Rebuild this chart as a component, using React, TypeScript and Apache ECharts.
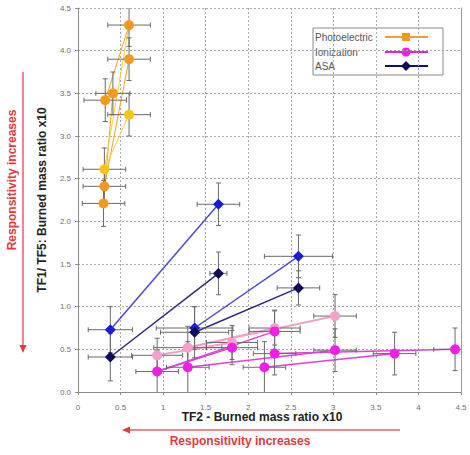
import React, { useEffect, useRef } from "react";
import * as echarts from "echarts";

// ---- data: [x, y, xErr, yErr] ----
const photoOrangePts = [
  [0.30, 2.21, 0.25, 0.27],
  [0.31, 2.41, 0.25, 0.2],
  [0.32, 3.42, 0.25, 0.25],
  [0.41, 3.50, 0.2, 0.25],
  [0.60, 3.90, 0.25, 0.25],
  [0.60, 4.30, 0.25, 0.25],
];
const photoYellowPts = [
  [0.31, 2.61, 0.25, 0.25],
  [0.60, 3.25, 0.25, 0.25],
];
const ionPinkPts = [
  [0.93, 0.43, 0.3, 0.2],
  [1.29, 0.52, 0.4, 0.25],
  [1.81, 0.58, 0.3, 0.2],
  [2.31, 0.75, 0.3, 0.2],
  [3.02, 0.89, 0.25, 0.25],
];
const ionMagentaPts = [
  [0.93, 0.24, 0.25, 0.25],
  [1.29, 0.29, 0.25, 0.3],
  [1.81, 0.52, 0.3, 0.2],
  [2.31, 0.71, 0.3, 0.25],
  [2.31, 0.45, 0.25, 0.25],
  [2.19, 0.29, 0.25, 0.3],
  [3.02, 0.49, 0.25, 0.25],
  [3.72, 0.45, 0.25, 0.25],
  [4.43, 0.50, 0.25, 0.25],
];
const asaBluePts = [
  [0.38, 0.73, 0.26, 0.27],
  [1.65, 2.20, 0.25, 0.25],
  [1.37, 0.75, 0.45, 0.25],
  [2.59, 1.59, 0.4, 0.25],
];
const asaNavyPts = [
  [0.38, 0.41, 0.26, 0.28],
  [1.65, 1.39, 0.1, 0.25],
  [1.37, 0.70, 0.4, 0.3],
  [2.59, 1.22, 0.25, 0.2],
];

// ---- connecting segments: [x1, y1, x2, y2] ----
const photoOrangeSegs = [
  [0.30, 2.21, 0.41, 3.50],
  [0.31, 2.41, 0.60, 3.90],
  [0.32, 3.42, 0.60, 4.30],
];
const photoYellowSegs = [
  [0.31, 2.61, 0.60, 4.30],
  [0.31, 2.61, 0.60, 3.25],
];
const ionPinkSegs = [
  [0.93, 0.43, 1.81, 0.58],
  [1.29, 0.52, 2.31, 0.75],
  [1.29, 0.52, 3.02, 0.89],
];
const ionMagentaSegs = [
  [0.93, 0.24, 2.31, 0.71],
  [0.93, 0.24, 1.81, 0.52],
  [1.29, 0.29, 3.02, 0.49],
  [2.19, 0.29, 3.72, 0.45],
  [2.31, 0.45, 4.43, 0.50],
];
const asaBlueSegs = [
  [0.38, 0.73, 1.65, 2.20],
  [1.37, 0.75, 2.59, 1.59],
];
const asaNavySegs = [
  [0.38, 0.41, 1.65, 1.39],
  [1.37, 0.70, 2.59, 1.22],
];

const legendNames = ["Photoelectric", "Ionization", "ASA"];
const xAxisTitle = "TF2 - Burned mass ratio x10";
const yAxisTitle = "TF1/ TF5: Burned mass ratio x10";
const arrowText = "Responsitivity increases";

const FONT = "'Liberation Sans', Arial, sans-serif";

export default function App() {
  const ref = useRef<HTMLDivElement>(null);
  useEffect(() => {
    if (!ref.current) return;
    const chart = echarts.init(ref.current, null, { renderer: "svg" });

    const groups = [
      { pts: photoOrangePts, segs: photoOrangeSegs, color: "#f39a1e", line: "#f3a030", lw: 1, symbol: "circle", size: 10 },
      { pts: photoYellowPts, segs: photoYellowSegs, color: "#f5c518", line: "#f5d040", lw: 1, symbol: "circle", size: 10 },
      { pts: ionPinkPts, segs: ionPinkSegs, color: "#f4a0c8", line: "#f4a0c8", lw: 2, symbol: "circle", size: 10 },
      { pts: ionMagentaPts, segs: ionMagentaSegs, color: "#f01ee6", line: "#e040d8", lw: 1.5, symbol: "circle", size: 10 },
      { pts: asaBluePts, segs: asaBlueSegs, color: "#1a1adc", line: "#4a4ad8", lw: 1.5, symbol: "diamond", size: 11 },
      { pts: asaNavyPts, segs: asaNavySegs, color: "#0c0c5a", line: "#2a2a78", lw: 1.5, symbol: "diamond", size: 11 },
    ];

    const series: any[] = [];
    groups.forEach((g) => {
      g.segs.forEach((s) => {
        series.push({
          type: "line",
          data: [[s[0], s[1]], [s[2], s[3]]],
          showSymbol: false,
          lineStyle: { color: g.line, width: g.lw },
          silent: true,
          z: 2,
        });
      });
    });

    const allPts = groups.flatMap((g) => g.pts);
    series.push({
      type: "custom",
      data: allPts,
      clip: true,
      z: 3,
      silent: true,
      renderItem: (params: any, api: any) => {
        const x = api.value(0), y = api.value(1), ex = api.value(2), ey = api.value(3);
        const l = api.coord([x - ex, y]);
        const r = api.coord([x + ex, y]);
        const t = api.coord([x, y + ey]);
        const b = api.coord([x, y - ey]);
        const st = { stroke: "#6a6a6a", lineWidth: 1 };
        const c = 2.5;
        return {
          type: "group",
          children: [
            { type: "line", shape: { x1: l[0], y1: l[1], x2: r[0], y2: r[1] }, style: st },
            { type: "line", shape: { x1: t[0], y1: t[1], x2: b[0], y2: b[1] }, style: st },
            { type: "line", shape: { x1: l[0], y1: l[1] - c, x2: l[0], y2: l[1] + c }, style: st },
            { type: "line", shape: { x1: r[0], y1: r[1] - c, x2: r[0], y2: r[1] + c }, style: st },
            { type: "line", shape: { x1: t[0] - c, y1: t[1], x2: t[0] + c, y2: t[1] }, style: st },
            { type: "line", shape: { x1: b[0] - c, y1: b[1], x2: b[0] + c, y2: b[1] }, style: st },
          ],
        };
      },
    });

    groups.forEach((g) => {
      series.push({
        type: "scatter",
        data: g.pts.map((p) => [p[0], p[1]]),
        symbol: g.symbol,
        symbolSize: g.size,
        itemStyle: { color: g.color, opacity: 1 },
        z: 4,
        silent: true,
      });
    });

    const red = "#e23a3a";
    const arrowLine = "#e46060";

    chart.setOption({
      animation: false,
      backgroundColor: "#ffffff",
      grid: { left: 78, right: 9, top: 8, bottom: 63, containLabel: false },
      xAxis: {
        type: "value",
        min: 0,
        max: 4.5,
        interval: 0.5,
        axisLine: { show: true, onZero: false, lineStyle: { color: "#8a8a8a", width: 1 } },
        axisTick: { show: true, length: 3, lineStyle: { color: "#8a8a8a" } },
        axisLabel: { color: "#707070", fontSize: 8, fontFamily: FONT, margin: 11, formatter: (v: number) => String(v) },
        splitLine: { show: true, lineStyle: { color: "#a8a8a8", type: [2, 2], width: 1 } },
      },
      yAxis: [
        {
          type: "value",
          min: 0,
          max: 4.5,
          interval: 0.5,
          axisLine: { show: true, onZero: false, lineStyle: { color: "#8a8a8a", width: 1 } },
          axisTick: { show: true, length: 3, lineStyle: { color: "#8a8a8a" } },
          axisLabel: { color: "#707070", fontSize: 8, fontFamily: FONT, margin: 7, formatter: (v: number) => v.toFixed(1) },
          splitLine: { show: true, lineStyle: { color: "#a8a8a8", type: [2, 2], width: 1 } },
        },
        {
          type: "value",
          min: 0,
          max: 4.5,
          interval: 0.5,
          position: "right",
          axisLine: { show: true, onZero: false, lineStyle: { color: "#9a9a9a", width: 1 } },
          axisTick: { show: false },
          axisLabel: { show: false },
          splitLine: { show: false },
        },
      ],
      series,
      graphic: [
        // legend
        {
          type: "group",
          z: 100,
          children: [
            { type: "rect", shape: { x: 313, y: 28, width: 130, height: 47 }, style: { fill: "#fff", stroke: "#8a8a8a", lineWidth: 1 } },
            { type: "text", x: 315, y: 37, style: { text: legendNames[0], fill: "#555", font: `10px ${FONT}`, verticalAlign: "middle" } },
            { type: "text", x: 315, y: 52, style: { text: legendNames[1], fill: "#555", font: `10px ${FONT}`, verticalAlign: "middle" } },
            { type: "text", x: 315, y: 66, style: { text: legendNames[2], fill: "#555", font: `10px ${FONT}`, verticalAlign: "middle" } },
            { type: "line", shape: { x1: 385, y1: 37, x2: 428, y2: 37 }, style: { stroke: "#f3a030", lineWidth: 2 } },
            { type: "rect", shape: { x: 402, y: 33, width: 8, height: 8 }, style: { fill: "#f39a1e" } },
            { type: "line", shape: { x1: 385, y1: 52, x2: 428, y2: 52 }, style: { stroke: "#e020e0", lineWidth: 2 } },
            { type: "circle", shape: { cx: 406, cy: 52, r: 4.5 }, style: { fill: "#f01ee6" } },
            { type: "line", shape: { x1: 385, y1: 66, x2: 428, y2: 66 }, style: { stroke: "#101070", lineWidth: 2 } },
            { type: "polygon", shape: { points: [[406, 61], [411, 66], [406, 71], [401, 66]] }, style: { fill: "#0c0c5a" } },
          ],
        },
        // axis titles
        { type: "text", x: 262, y: 417, style: { text: xAxisTitle, fill: "#222", font: `bold 12px ${FONT}`, align: "center", verticalAlign: "middle" } },
        { type: "text", x: 42, y: 200, rotation: Math.PI / 2, style: { text: yAxisTitle, fill: "#222", font: `bold 12px ${FONT}`, align: "center", verticalAlign: "middle" } },
        // bottom arrow
        { type: "line", shape: { x1: 400, y1: 430, x2: 128, y2: 430 }, style: { stroke: arrowLine, lineWidth: 1.5 } },
        { type: "polygon", shape: { points: [[122, 430], [130, 426.5], [130, 433.5]] }, style: { fill: red } },
        { type: "text", x: 240, y: 441, style: { text: arrowText, fill: red, font: `bold 12px ${FONT}`, align: "center", verticalAlign: "middle" } },
        // left arrow
        { type: "line", shape: { x1: 23, y1: 72, x2: 23, y2: 347 }, style: { stroke: arrowLine, lineWidth: 1.5 } },
        { type: "polygon", shape: { points: [[23, 353], [19.5, 345], [26.5, 345]] }, style: { fill: red } },
        { type: "text", x: 12, y: 180, rotation: Math.PI / 2, style: { text: arrowText, fill: red, font: `bold 12px ${FONT}`, align: "center", verticalAlign: "middle" } },
      ],
    });
    return () => chart.dispose();
  }, []);
  return (
    <div
      ref={ref}
      style={{ position: "fixed", left: 0, top: 0, width: 470, height: 455, background: "#fff" }}
    />
  );
}
